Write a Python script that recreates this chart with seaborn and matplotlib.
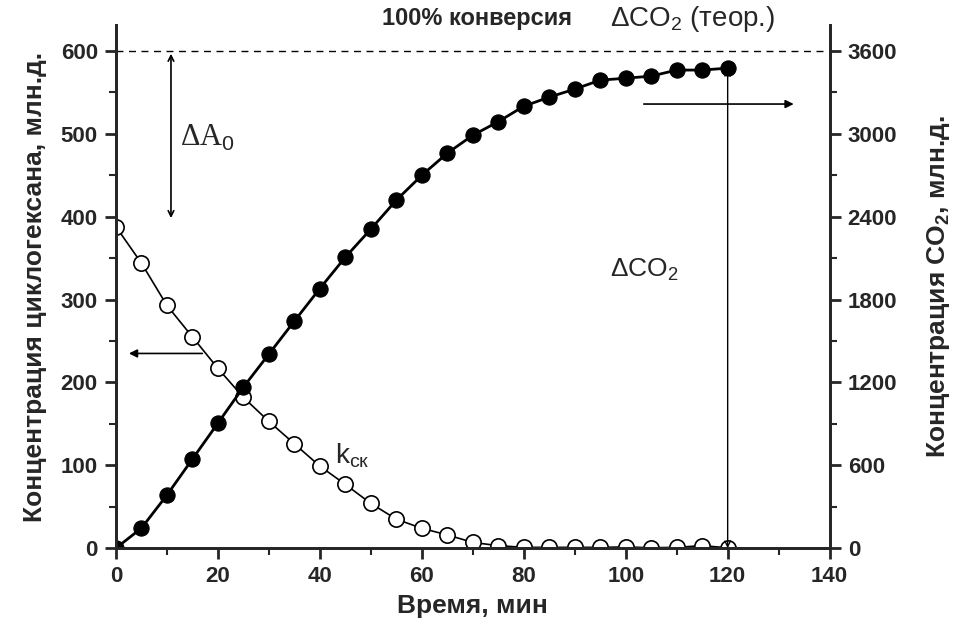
import matplotlib
matplotlib.use('Agg')
import matplotlib.pyplot as plt
from matplotlib.ticker import MultipleLocator
import seaborn as sns
import numpy as np
import pandas as pd

sns.set_style("ticks")
plt.rcParams['font.family'] = ['Liberation Sans', 'DejaVu Sans']
plt.rcParams['mathtext.fontset'] = 'custom'
plt.rcParams['mathtext.rm'] = 'Liberation Sans'
plt.rcParams['mathtext.it'] = 'Liberation Sans'
plt.rcParams['mathtext.bf'] = 'Liberation Sans:bold'

# время, мин
time_min = [0, 5, 10, 15, 20, 25, 30, 35, 40, 45, 50, 55, 60,
            65, 70, 75, 80, 85, 90, 95, 100, 105, 110, 115, 120]
# циклогексан, млн.д. (левая ось)
cyclohexane = [388, 344, 293, 255, 217, 182, 153, 126, 99, 77, 54, 35, 24,
               16, 7, 3, 1, 1, 1, 1, 1.5, 0.5, 1, 3, 0.5]
# CO2, млн.д. (правая ось)
co2 = [0, 145, 384, 645, 905, 1166, 1405, 1644, 1880, 2107, 2310, 2520, 2700,
       2860, 2990, 3088, 3200, 3266, 3324, 3389, 3403, 3418, 3462, 3462, 3476]

df = pd.DataFrame({'time': time_min, 'chx': cyclohexane, 'co2': co2})

fig = plt.figure(figsize=(9.58, 6.33), dpi=100)
ax = fig.add_axes([0.121, 0.134, 0.745, 0.826])
ax2 = ax.twinx()

sns.lineplot(data=df, x='time', y='chx', ax=ax, color='black', lw=1.2,
             marker='o', markersize=11, markerfacecolor='white',
             markeredgecolor='black', markeredgewidth=1.2)
sns.lineplot(data=df, x='time', y='co2', ax=ax2, color='black', lw=2,
             marker='o', markersize=11, markerfacecolor='black',
             markeredgecolor='black')

ax.set_xlim(0, 140)
ax.set_ylim(0, 631)
ax2.set_ylim(0, 631 * 6)

ax.xaxis.set_major_locator(MultipleLocator(20))
ax.xaxis.set_minor_locator(MultipleLocator(10))
ax.yaxis.set_minor_locator(MultipleLocator(50))
ax2.yaxis.set_minor_locator(MultipleLocator(300))
ax.set_yticks(range(0, 601, 100))
ax2.set_yticks(range(0, 3601, 600))

for a in (ax, ax2):
    a.spines['top'].set_visible(False)
    for s in a.spines.values():
        s.set_linewidth(2)
    a.tick_params(which='major', direction='out', length=8, width=2,
                  labelsize=16, pad=5)
    a.tick_params(which='minor', direction='out', length=5, width=1.5)
    for lab in a.get_xticklabels() + a.get_yticklabels():
        lab.set_fontweight('bold')

ax.set_xlabel('Время, мин', fontsize=19, fontweight='bold', labelpad=5)
ax.set_ylabel('Концентрация циклогексана, млн.д.', fontsize=19,
              fontweight='bold', labelpad=10)
ax2.set_ylabel('Концентрация CO$_\\mathbf{2}$, млн.д.', fontsize=19,
               fontweight='bold', labelpad=20)

# линия 100% конверсии
ax.axhline(600, color='black', lw=1, ls=(0, (5, 4)))
ax.text(89.5, 639, '100% конверсия', fontsize=17, fontweight='bold',
        ha='right', va='center', clip_on=False)
ax.text(97, 639, 'ΔCO$_2$ (теор.)', fontsize=20, ha='left', va='center',
        clip_on=False)

# ΔA0
ax.annotate('', xy=(10.8, 600), xytext=(10.8, 395),
            arrowprops=dict(arrowstyle='<->', color='black', lw=1.2))
ax.text(12.5, 495, 'ΔA$_0$', fontsize=22, family='Liberation Serif',
        va='center')

# стрелки к осям
ax.annotate('', xy=(2, 235), xytext=(17.5, 235),
            arrowprops=dict(arrowstyle='-|>', color='black', lw=1.2,
                            mutation_scale=12))
ax.annotate('', xy=(133.5, 536), xytext=(103, 536),
            arrowprops=dict(arrowstyle='-|>', color='black', lw=1.2,
                            mutation_scale=12))

# ΔCO2
ax2.annotate('', xy=(120, 3470), xytext=(120, 0),
             arrowprops=dict(arrowstyle='<->', color='black', lw=1,
                             shrinkA=0, shrinkB=0))
ax.text(97, 336, 'ΔCO$_2$', fontsize=19, va='center')

ax.text(43, 112, 'k$_{ск}$', fontsize=20, va='center')

plt.savefig('out.png', dpi=100)
plt.close('all')
